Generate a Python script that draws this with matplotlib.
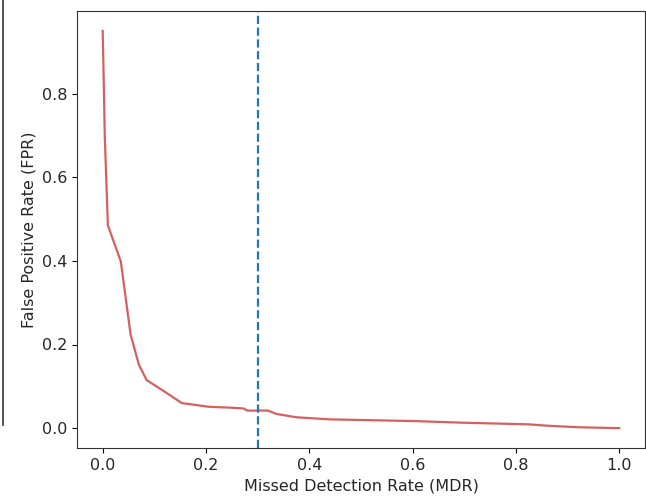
import matplotlib
matplotlib.use("Agg")
import matplotlib.pyplot as plt
from matplotlib.lines import Line2D

# 数据
mdr = [0.0, 0.002, 0.004, 0.010, 0.035, 0.054, 0.070, 0.085, 0.119, 0.153,
       0.206, 0.246, 0.273, 0.280, 0.320, 0.336, 0.375, 0.439, 0.600,
       0.697, 0.826, 0.858, 0.923, 1.0]
fpr = [0.950, 0.830, 0.700, 0.485, 0.399, 0.224, 0.152, 0.115, 0.088, 0.060,
       0.051, 0.049, 0.047, 0.042, 0.042, 0.034, 0.026, 0.021, 0.017,
       0.013, 0.009, 0.006, 0.002, 0.0]
threshold = 0.3

text_color = '#262626'
plt.rcParams['text.color'] = text_color
plt.rcParams['axes.labelcolor'] = text_color
plt.rcParams['xtick.labelcolor'] = text_color
plt.rcParams['ytick.labelcolor'] = text_color

fig = plt.figure(figsize=(6.46, 5.0), dpi=100)
ax = fig.add_axes([0.119, 0.104, 0.8795, 0.874])

ax.plot(mdr, fpr, color='#d65f5f', linewidth=1.6)
ax.axvline(threshold, color='#1f77b4', linestyle='--', linewidth=1.6)

ax.set_xlabel("Missed Detection Rate (MDR)", fontsize=11.5)
ax.set_ylabel("False Positive Rate (FPR)", fontsize=11.5)
ax.tick_params(labelsize=11.5)
ax.set_xticks([0.0, 0.2, 0.4, 0.6, 0.8, 1.0])
ax.set_yticks([0.0, 0.2, 0.4, 0.6, 0.8])
for s in ax.spines.values():
    s.set_color('#333333')

# 左侧裁剪残留的边线
fig.add_artist(Line2D([0.004, 0.004], [0.15, 1.0], color='#333333', linewidth=1.2))

fig.savefig("out.png", dpi=100)
